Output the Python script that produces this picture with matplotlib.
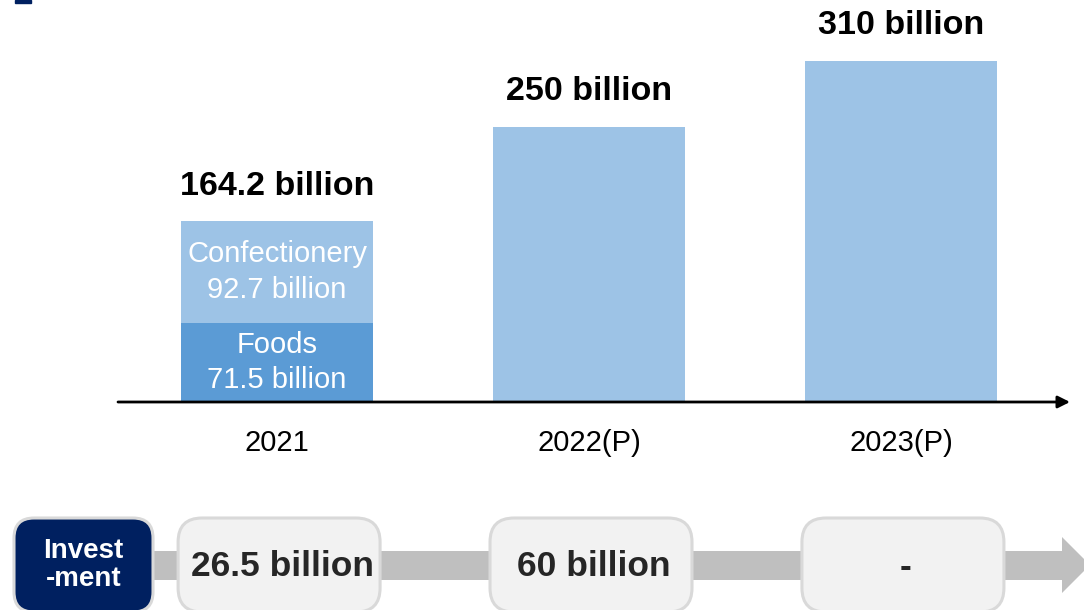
import matplotlib.pyplot as plt
import numpy as np
from matplotlib.patches import FancyBboxPatch, Polygon, Rectangle

plt.rcParams['font.family'] = ['Liberation Sans', 'DejaVu Sans']

# data
years = ['2021', '2022(P)', '2023(P)']
totals = [164.2, 250, 310]
total_labels = ['164.2 billion', '250 billion', '310 billion']
foods = 71.5
confectionery = 92.7
investment = ['26.5 billion', '60 billion', '-']

light_blue = '#9DC3E6'
mid_blue = '#5B9BD5'
navy = '#002060'

W, H = 1084, 610
fig = plt.figure(figsize=(W / 100, H / 100), dpi=100)

# overlay in pixel coords (top-down) for the decorations
ov = fig.add_axes([0, 0, 1, 1])
ov.set_xlim(0, W)
ov.set_ylim(H, 0)
ov.axis('off')
ov.patch.set_alpha(0)

# bar chart axes, baseline at y=402px
base_y = 402
ax = fig.add_axes([118 / W, (H - base_y) / H, (1070 - 118) / W, base_y / H])
ax.patch.set_alpha(0)
x = np.arange(len(years))
ax.set_xlim(-0.51, 2.542)
ax.set_ylim(0, 365)
for s in ax.spines.values():
    s.set_visible(False)
ax.set_xticks([])
ax.set_yticks([])

bw = 0.615
ax.bar(x[0], foods, width=bw, color=mid_blue)
ax.bar(x[0], confectionery, bottom=foods, width=bw, color=light_blue)
ax.bar(x[1:], totals[1:], width=bw, color=light_blue)

# axis arrow
ax.annotate('', xy=(1, 0), xytext=(0, 0), xycoords='axes fraction',
            arrowprops=dict(arrowstyle='-|>', lw=2, color='black', mutation_scale=18,
                            shrinkA=0, shrinkB=0))

# labels on top
for i, (t, lab) in enumerate(zip(totals, total_labels)):
    ax.annotate(lab, (x[i], t), xytext=(0, 35), textcoords='offset pixels',
                ha='center', va='center', fontsize=24.5, fontweight='bold', color='black')

# inside labels for 2021
ax.text(x[0], foods + confectionery / 2, 'Confectionery\n92.7 billion', ha='center', va='center',
        fontsize=21, color='white', linespacing=1.35)
ax.text(x[0], foods / 2, 'Foods\n71.5 billion', ha='center', va='center',
        fontsize=21, color='white', linespacing=1.35)

# category labels
for i, y in enumerate(years):
    ax.annotate(y, (x[i], 0), xytext=(0, -41), textcoords='offset pixels',
                ha='center', va='center', fontsize=21, color='black')

# top-left fragment of the title marker
ov.add_patch(Rectangle((15, 0), 16, 3, color=navy))

# bottom investment row
band_top, band_bot = 551, 580
ov.add_patch(Polygon([(150, band_top), (1062, band_top), (1062, 537), (1090, 565),
                      (1062, 593), (1062, band_bot), (150, band_bot)],
                     closed=True, color='#BFBFBF', lw=0, clip_on=False))

box_top, box_bot = 518, 612
ov.add_patch(FancyBboxPatch((14, box_top), 139, box_bot - box_top,
                            boxstyle='round,pad=0,rounding_size=20',
                            fc=navy, ec='#D9D9D9', lw=2.2))
ov.text(83.5, 565, 'Invest\n-ment', ha='center', va='center', fontsize=20,
        fontweight='bold', color='white', linespacing=1.15)

for i, lab in enumerate(investment):
    cx = ax.transData.transform((x[i], 0))[0] + 2
    ov.add_patch(FancyBboxPatch((cx - 101, box_top), 202, box_bot - box_top,
                                boxstyle='round,pad=0,rounding_size=24',
                                fc='#F2F2F2', ec='#D9D9D9', lw=2.2))
    ov.text(cx + 3, 567, lab, ha='center', va='center', fontsize=25.5,
            fontweight='bold', color='#262626')

plt.savefig('out.png', dpi=100)
